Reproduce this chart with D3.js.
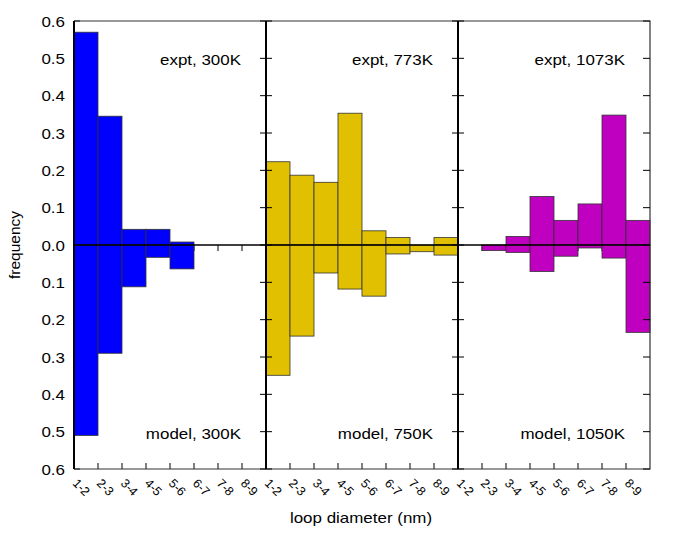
<!DOCTYPE html>
<html>
<head>
<meta charset="utf-8">
<script src="https://cdn.jsdelivr.net/npm/d3@7"></script>
<style>
  body { margin: 0; background: #fff; }
  text { font-family: "Liberation Sans", Arial, sans-serif; fill: #000; }
</style>
</head>
<body>
<div id="chart"></div>
<script>
var width = 692
var height = 554

var bins = ['1-2', '2-3', '3-4', '4-5', '5-6', '6-7', '7-8', '8-9']
var panels = ['p300', 'p773', 'p1073']
var exptLabels = ['expt, 300K', 'expt, 773K', 'expt, 1073K']
var modelLabels = ['model, 300K', 'model, 750K', 'model, 1050K']
var colors = ['#0000ff', '#e0c000', '#c000c0']

// upward bars
var expt300 = [0.570, 0.345, 0.042, 0.042, 0.008, 0, 0, 0]
var expt773 = [0.223, 0.187, 0.168, 0.353, 0.038, 0.020, 0, 0.020]
var expt1073 = [0, 0, 0.023, 0.130, 0.066, 0.110, 0.348, 0.066]
// downward bars
var model300 = [0.510, 0.290, 0.112, 0.033, 0.064, 0, 0, 0]
var model750 = [0.349, 0.244, 0.075, 0.118, 0.137, 0.024, 0.018, 0.027]
var model1050 = [0, 0.015, 0.020, 0.071, 0.030, 0.008, 0.035, 0.234]

var yTicks = [-0.6, -0.5, -0.4, -0.3, -0.2, -0.1, 0, 0.1, 0.2, 0.3, 0.4, 0.5, 0.6]

var expt = [expt300, expt773, expt1073]
var model = [model300, model750, model1050]

var margin = { left: 74, right: 42, top: 21, bottom: 85 }
var x0 = margin.left, x1 = width - margin.right
var yTop = margin.top, yBot = height - margin.bottom
var sx = 1.13   // horizontal text stretch

var svg = d3.select('#chart').append('svg')
    .attr('width', width)
    .attr('height', height)

var y = d3.scaleLinear().domain([-0.6, 0.6]).range([yBot, yTop])
var px = d3.scaleBand().domain(panels).range([x0, x1])
var bx = d3.scaleBand().domain(bins).range([0, px.bandwidth()])

function stretchText(sel, tx, ty) {
    sel.attr('transform', 'translate(' + tx + ',' + ty + ') scale(' + sx + ',1)')
}

// zero-axis ticks (hidden where bars sit)
var zeroTicks = svg.append('g')
panels.forEach(function(p) {
    bins.forEach(function(b, i) {
        if (i === 0) return
        zeroTicks.append('line')
            .attr('x1', px(p) + bx(b)).attr('x2', px(p) + bx(b))
            .attr('y1', y(0)).attr('y2', y(0) + 6)
            .attr('stroke', '#000').attr('stroke-width', 1)
    })
})

// left-axis inner ticks
svg.append('g').selectAll('line').data(yTicks).enter().append('line')
    .attr('x1', x0).attr('x2', x0 + 6)
    .attr('y1', function(d) { return y(d) }).attr('y2', function(d) { return y(d) })
    .attr('stroke', '#000')

// bars
panels.forEach(function(p, k) {
    var g = svg.append('g').attr('transform', 'translate(' + px(p) + ',0)')
    var up = bins.map(function(b, i) { return { bin: b, v: expt[k][i] } })
        .filter(function(d) { return d.v > 0 })
    var down = bins.map(function(b, i) { return { bin: b, v: model[k][i] } })
        .filter(function(d) { return d.v > 0 })

    g.selectAll('.up').data(up).enter().append('rect')
        .attr('class', 'up')
        .attr('x', function(d) { return bx(d.bin) })
        .attr('width', bx.bandwidth())
        .attr('y', function(d) { return y(d.v) })
        .attr('height', function(d) { return y(0) - y(d.v) })
        .attr('fill', colors[k])
        .attr('stroke', '#333').attr('stroke-width', 0.8)

    g.selectAll('.down').data(down).enter().append('rect')
        .attr('class', 'down')
        .attr('x', function(d) { return bx(d.bin) })
        .attr('width', bx.bandwidth())
        .attr('y', y(0))
        .attr('height', function(d) { return y(-d.v) - y(0) })
        .attr('fill', colors[k])
        .attr('stroke', '#333').attr('stroke-width', 0.8)

    // bottom ticks
    g.selectAll('.bt').data(bins.slice(1)).enter().append('line')
        .attr('x1', function(d) { return bx(d) }).attr('x2', function(d) { return bx(d) })
        .attr('y1', yBot).attr('y2', yBot - 6)
        .attr('stroke', '#000')

    // rotated tick labels
    g.selectAll('.xl').data(bins).enter().append('text')
        .attr('transform', function(d) {
            return 'translate(' + (bx(d) - 2) + ',' + (yBot + 15) + ') rotate(45)' })
        .style('font-size', '12.5px')
        .text(function(d) { return d })

    g.append('text')
        .attr('text-anchor', 'end')
        .style('font-size', '15px')
        .text(exptLabels[k])
        .call(stretchText, px.bandwidth() - 25, 65)

    g.append('text')
        .attr('text-anchor', 'end')
        .style('font-size', '15px')
        .text(modelLabels[k])
        .call(stretchText, px.bandwidth() - 25, 439)
})

// zero line
svg.append('line')
    .attr('x1', x0).attr('x2', x1)
    .attr('y1', y(0)).attr('y2', y(0))
    .attr('stroke', '#000').attr('stroke-width', 1.6)

// frame: top, bottom, right thin
svg.append('path')
    .attr('d', 'M' + x0 + ',' + yTop + 'H' + x1 + 'V' + yBot + 'H' + x0)
    .attr('fill', 'none').attr('stroke', '#333').attr('stroke-width', 1.2)

// right inner ticks
svg.append('g').selectAll('line').data(yTicks).enter().append('line')
    .attr('x1', x1).attr('x2', x1 - 7)
    .attr('y1', function(d) { return y(d) }).attr('y2', function(d) { return y(d) })
    .attr('stroke', '#000')

// left axis + dividers, thick, with crossing ticks
panels.forEach(function(p, k) {
    var xx = px(p)
    svg.append('line')
        .attr('x1', xx).attr('x2', xx)
        .attr('y1', yTop).attr('y2', yBot)
        .attr('stroke', '#000').attr('stroke-width', 2)
    if (k > 0) {
        svg.append('g').selectAll('line').data(yTicks).enter().append('line')
            .attr('x1', xx - 6).attr('x2', xx + 6)
            .attr('y1', function(d) { return y(d) }).attr('y2', function(d) { return y(d) })
            .attr('stroke', '#000')
    }
})

// y tick labels
svg.append('g').selectAll('text').data(yTicks).enter().append('text')
    .attr('text-anchor', 'end')
    .style('font-size', '15px')
    .text(function(d) { return Math.abs(d).toFixed(1) })
    .each(function(d) { d3.select(this).call(stretchText, 65, y(d) + 5.5) })

// axis titles
svg.append('text')
    .attr('text-anchor', 'middle')
    .style('font-size', '15px')
    .text('loop diameter (nm)')
    .call(stretchText, 361, 523)

svg.append('text')
    .attr('text-anchor', 'middle')
    .attr('transform', 'translate(20,245) rotate(-90)')
    .style('font-size', '15.5px')
    .text('frequency')
</script>
</body>
</html>
